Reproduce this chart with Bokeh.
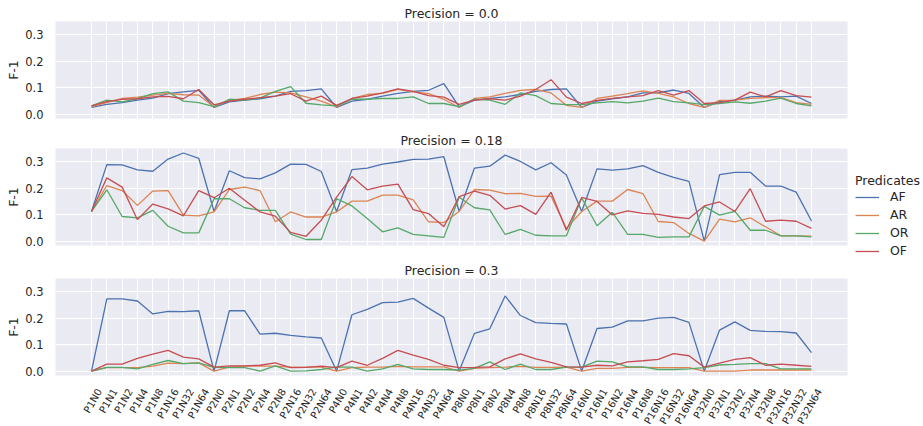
import math
from bokeh.plotting import figure
from bokeh.layouts import column
from bokeh.models import FixedTicker, Legend, LegendItem, Range1d, NumeralTickFormatter, Grid
from bokeh.embed import file_html
from bokeh.resources import INLINE

# ---- data ----
p_values = [1, 2, 4, 8, 16, 32]
n_values = [0, 1, 2, 4, 8, 16, 32, 64]
categories = [f"P{p}N{n}" for p in p_values for n in n_values]
predicates = ["AF", "AR", "OR", "OF"]
precisions = ["0.0", "0.18", "0.3"]

af_00 = [0.025, 0.037, 0.043, 0.053, 0.060, 0.077, 0.084, 0.090,
         0.025, 0.046, 0.053, 0.058, 0.068, 0.086, 0.089, 0.095,
         0.025, 0.049, 0.056, 0.068, 0.078, 0.086, 0.090, 0.115,
         0.027, 0.053, 0.059, 0.065, 0.074, 0.086, 0.093, 0.095,
         0.025, 0.049, 0.058, 0.065, 0.080, 0.080, 0.091, 0.078,
         0.025, 0.047, 0.053, 0.065, 0.068, 0.065, 0.068, 0.040]
ar_00 = [0.028, 0.043, 0.059, 0.064, 0.072, 0.078, 0.073, 0.072,
         0.027, 0.052, 0.059, 0.074, 0.083, 0.080, 0.065, 0.049,
         0.027, 0.059, 0.074, 0.078, 0.093, 0.084, 0.077, 0.056,
         0.025, 0.059, 0.065, 0.078, 0.090, 0.093, 0.080, 0.033,
         0.025, 0.059, 0.068, 0.077, 0.088, 0.078, 0.065, 0.040,
         0.025, 0.052, 0.053, 0.059, 0.062, 0.062, 0.043, 0.037]
or_00 = [0.031, 0.053, 0.046, 0.058, 0.077, 0.084, 0.049, 0.043,
         0.028, 0.056, 0.053, 0.060, 0.086, 0.104, 0.041, 0.035,
         0.031, 0.056, 0.056, 0.059, 0.059, 0.065, 0.040, 0.040,
         0.028, 0.056, 0.053, 0.037, 0.080, 0.070, 0.040, 0.036,
         0.036, 0.042, 0.047, 0.042, 0.049, 0.060, 0.047, 0.042,
         0.036, 0.040, 0.046, 0.041, 0.049, 0.060, 0.040, 0.031]
of_00 = [0.031, 0.047, 0.056, 0.058, 0.065, 0.067, 0.058, 0.093,
         0.035, 0.049, 0.056, 0.062, 0.068, 0.077, 0.049, 0.068,
         0.033, 0.059, 0.068, 0.080, 0.095, 0.086, 0.070, 0.064,
         0.037, 0.053, 0.058, 0.053, 0.068, 0.093, 0.130, 0.064,
         0.040, 0.052, 0.059, 0.065, 0.070, 0.089, 0.072, 0.089,
         0.040, 0.043, 0.053, 0.083, 0.065, 0.089, 0.070, 0.064]

af_18 = [0.112, 0.289, 0.288, 0.269, 0.264, 0.310, 0.333, 0.313,
         0.112, 0.266, 0.240, 0.235, 0.258, 0.291, 0.290, 0.263,
         0.112, 0.270, 0.276, 0.291, 0.299, 0.309, 0.310, 0.319,
         0.112, 0.276, 0.283, 0.325, 0.301, 0.269, 0.296, 0.250,
         0.112, 0.273, 0.268, 0.273, 0.285, 0.260, 0.241, 0.226,
         0.000, 0.251, 0.260, 0.260, 0.208, 0.208, 0.185, 0.076]
ar_18 = [0.112, 0.210, 0.191, 0.135, 0.189, 0.191, 0.098, 0.095,
         0.110, 0.195, 0.204, 0.191, 0.073, 0.110, 0.091, 0.091,
         0.110, 0.151, 0.151, 0.174, 0.174, 0.156, 0.073, 0.070,
         0.112, 0.195, 0.193, 0.179, 0.180, 0.169, 0.170, 0.048,
         0.112, 0.151, 0.151, 0.195, 0.179, 0.074, 0.070, 0.029,
         0.000, 0.083, 0.073, 0.088, 0.054, 0.020, 0.020, 0.019]
or_18 = [0.112, 0.194, 0.093, 0.088, 0.116, 0.056, 0.031, 0.031,
         0.160, 0.160, 0.126, 0.116, 0.116, 0.026, 0.006, 0.006,
         0.160, 0.133, 0.085, 0.035, 0.050, 0.025, 0.020, 0.014,
         0.166, 0.126, 0.118, 0.025, 0.044, 0.022, 0.020, 0.020,
         0.163, 0.058, 0.109, 0.025, 0.025, 0.014, 0.016, 0.016,
         0.131, 0.098, 0.112, 0.041, 0.041, 0.020, 0.020, 0.016]
of_18 = [0.112, 0.239, 0.204, 0.081, 0.140, 0.122, 0.095, 0.191,
         0.164, 0.200, 0.154, 0.110, 0.094, 0.033, 0.018, 0.079,
         0.166, 0.244, 0.194, 0.208, 0.215, 0.119, 0.104, 0.054,
         0.168, 0.189, 0.173, 0.121, 0.134, 0.101, 0.185, 0.041,
         0.165, 0.150, 0.099, 0.114, 0.105, 0.101, 0.091, 0.085,
         0.133, 0.148, 0.112, 0.198, 0.075, 0.079, 0.075, 0.048]

af_30 = [0.000, 0.273, 0.273, 0.265, 0.216, 0.226, 0.225, 0.228,
         0.000, 0.228, 0.228, 0.140, 0.143, 0.135, 0.129, 0.125,
         0.000, 0.213, 0.233, 0.259, 0.261, 0.275, 0.238, 0.203,
         0.000, 0.143, 0.160, 0.284, 0.210, 0.183, 0.180, 0.178,
         0.000, 0.161, 0.166, 0.190, 0.190, 0.200, 0.203, 0.184,
         0.000, 0.155, 0.186, 0.154, 0.150, 0.149, 0.144, 0.070]
ar_30 = [0.000, 0.013, 0.013, 0.013, 0.019, 0.030, 0.028, 0.031,
         0.000, 0.016, 0.019, 0.019, 0.019, 0.015, 0.015, 0.015,
         0.000, 0.013, 0.015, 0.015, 0.018, 0.016, 0.016, 0.016,
         0.000, 0.010, 0.013, 0.015, 0.018, 0.014, 0.014, 0.015,
         0.000, 0.010, 0.010, 0.014, 0.014, 0.013, 0.013, 0.013,
         0.000, 0.000, 0.000, 0.004, 0.004, 0.004, 0.004, 0.004]
or_30 = [0.000, 0.014, 0.014, 0.008, 0.025, 0.040, 0.028, 0.031,
         0.014, 0.013, 0.013, 0.000, 0.020, 0.000, 0.001, 0.006,
         0.016, 0.015, 0.000, 0.008, 0.025, 0.008, 0.006, 0.006,
         0.004, 0.010, 0.035, 0.006, 0.026, 0.006, 0.006, 0.015,
         0.015, 0.038, 0.035, 0.016, 0.016, 0.006, 0.006, 0.008,
         0.013, 0.023, 0.025, 0.028, 0.028, 0.008, 0.008, 0.008]
of_30 = [0.000, 0.026, 0.026, 0.048, 0.064, 0.078, 0.053, 0.046,
         0.015, 0.020, 0.020, 0.022, 0.031, 0.013, 0.014, 0.019,
         0.013, 0.038, 0.022, 0.048, 0.078, 0.060, 0.044, 0.022,
         0.013, 0.014, 0.016, 0.046, 0.065, 0.046, 0.033, 0.016,
         0.015, 0.022, 0.020, 0.035, 0.039, 0.044, 0.066, 0.058,
         0.015, 0.030, 0.044, 0.051, 0.022, 0.026, 0.022, 0.018]

panel_series = [
    [af_00, ar_00, or_00, of_00],
    [af_18, ar_18, or_18, of_18],
    [af_30, ar_30, or_30, of_30],
]
y_ticks = [0.0, 0.1, 0.2, 0.3]

# ---- style ----
colors = ["#4c72b0", "#dd8452", "#55a868", "#c44e52"]
FONT = "DejaVu Sans"
TXT = "#262626"
x_idx = list(range(len(categories)))
LABEL_SHIFT = 0.52  # centre rotated tick labels under their tick (matplotlib style)
label_ticks = [i + LABEL_SHIFT for i in x_idx]
X_LO, X_HI = -2.35, len(categories) - 1 + 2.35
Y_LO, Y_HI = -0.0167, 0.35

borders_top = [21, 22, 20]
borders_bottom = [8, 13, 50]

figs = []
for k, (prec, series) in enumerate(zip(precisions, panel_series)):
    p = figure(
        frame_width=792, frame_height=97,
        x_range=Range1d(X_LO, X_HI),
        y_range=Range1d(Y_LO, Y_HI),
        output_backend="svg", toolbar_location=None,
        x_axis_location=None if k < 2 else "below",
        min_border_left=55, min_border_right=74,
        min_border_top=borders_top[k],
        min_border_bottom=borders_bottom[k],
    )
    p.background_fill_color = "#eaeaf2"
    p.border_fill_color = "white"
    p.outline_line_color = None

    p.title.text = f"Precision = {prec}"
    p.title.align = "center"
    p.title.text_font = FONT
    p.title.text_font_size = "12.5px"
    p.title.text_font_style = "normal"
    p.title.text_color = TXT
    p.title.standoff = 2

    if len(p.xgrid) == 0:
        p.add_layout(Grid(dimension=0, ticker=FixedTicker(ticks=x_idx)))
    p.xgrid.ticker = FixedTicker(ticks=x_idx)
    p.ygrid.ticker = FixedTicker(ticks=y_ticks)
    for g in (p.xgrid, p.ygrid):
        g.grid_line_color = "white"
        g.grid_line_width = 1.1

    ya = p.yaxis[0]
    ya.ticker = FixedTicker(ticks=y_ticks)
    ya.formatter = NumeralTickFormatter(format="0.0")
    ya.axis_line_color = None
    ya.major_tick_line_color = None
    ya.minor_tick_line_color = None
    ya.major_label_text_font = FONT
    ya.major_label_text_font_size = "11.5px"
    ya.major_label_text_color = TXT
    ya.major_label_standoff = 6
    ya.axis_label = "F-1"
    ya.axis_label_text_font = FONT
    ya.axis_label_text_font_size = "12.5px"
    ya.axis_label_text_font_style = "normal"
    ya.axis_label_text_color = TXT
    ya.axis_label_standoff = 1

    if k == 2:
        xa = p.xaxis[0]
        xa.ticker = FixedTicker(ticks=label_ticks)
        xa.major_label_overrides = {t: c for t, c in zip(label_ticks, categories)}
        xa.major_label_orientation = math.pi / 3
        xa.axis_line_color = None
        xa.major_tick_line_color = None
        xa.minor_tick_line_color = None
        xa.major_label_text_font = FONT
        xa.major_label_text_font_size = "10px"
        xa.major_label_text_color = TXT
        xa.major_label_standoff = 8

    rs = []
    for vals, col in zip(series, colors):
        r = p.line(x_idx, vals, line_color=col, line_width=1.3)
        rs.append(r)
    if k == 1:
        legend = Legend(
            items=[LegendItem(label=name, renderers=[r]) for name, r in zip(predicates, rs)],
            title="Predicates",
            location=(8, -13),
            orientation="vertical",
        )
        legend.border_line_color = None
        legend.background_fill_alpha = 0
        legend.padding = 0
        legend.margin = 0
        legend.title_text_font = FONT
        legend.title_text_font_size = "12.5px"
        legend.title_text_font_style = "normal"
        legend.title_text_color = TXT
        legend.title_standoff = 1
        legend.label_text_font = FONT
        legend.label_text_font_size = "12.5px"
        legend.label_text_color = TXT
        legend.glyph_width = 24
        legend.glyph_height = 14
        legend.label_height = 14
        legend.spacing = 3
        legend.label_standoff = 11
        p.add_layout(legend, "right")
    figs.append(p)

layout = column(*figs, spacing=0)
open("out.html", "w").write(file_html(layout, INLINE))
